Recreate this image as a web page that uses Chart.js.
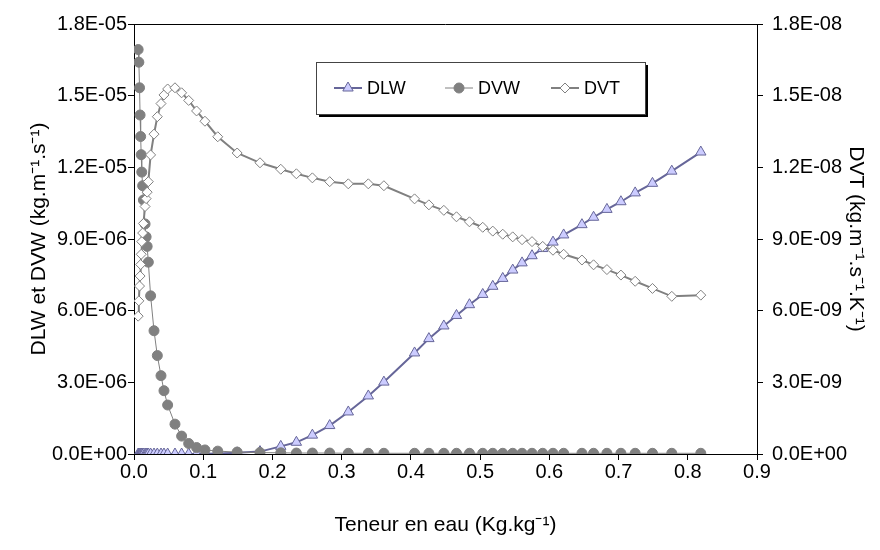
<!DOCTYPE html>
<html>
<head>
<meta charset="utf-8">
<script src="https://cdn.jsdelivr.net/npm/chart.js@4.4.1/dist/chart.umd.min.js"></script>
<style>
  html, body { margin: 0; padding: 0; background: #fff; }
  #wrap { width: 880px; height: 550px; }
</style>
</head>
<body>
<div id="wrap"><canvas id="chart" width="880" height="550"></canvas></div>
<script>
// water content (Kg.kg-1), shared by the three series
const teneur = [
  0.0060, 0.0070, 0.0080, 0.0088, 0.0096, 0.0104, 0.0112, 0.0125, 0.0136, 0.0160, 0.0175, 0.0190, 0.0207,
  0.0240, 0.0289, 0.0337, 0.0390, 0.0433, 0.0486, 0.0592, 0.0688, 0.0790, 0.0904, 0.1025, 0.1210, 0.1490,
  0.1820, 0.2120, 0.2346, 0.2577, 0.2827, 0.3096, 0.3385, 0.3610, 0.4053, 0.4260, 0.4476, 0.4659, 0.4846,
  0.5038, 0.5183, 0.5327, 0.5471, 0.5606, 0.5750, 0.5904, 0.6053, 0.6207, 0.6471, 0.6639, 0.6832, 0.7034,
  0.7240, 0.7490, 0.7769, 0.8188
];
// DLW and DVW in 1E-06 kg.m-1.s-1
const dlw = [
  0, 0, 0, 0, 0, 0, 0, 0, 0, 0, 0, 0, 0,
  0, 0, 0, 0, 0, 0, 0, 0, 0, 0, 0.01, 0.02, 0.05,
  0.10, 0.32, 0.49, 0.79, 1.19, 1.76, 2.43, 3.01, 4.23, 4.83, 5.36, 5.80, 6.25,
  6.68, 7.02, 7.35, 7.70, 8.00, 8.30, 8.60, 8.87, 9.17, 9.60, 9.91, 10.24, 10.56,
  10.93, 11.33, 11.84, 12.64
];
const dvw = [
  16.93, 16.40, 15.33, 14.19, 13.29, 12.53, 11.80, 11.23, 10.63, 9.63, 9.09, 8.69, 8.03,
  6.62, 5.16, 4.12, 3.28, 2.65, 2.05, 1.25, 0.75, 0.44, 0.27, 0.17, 0.12, 0.08,
  0.06, 0.05, 0.04, 0.04, 0.04, 0.03, 0.03, 0.03, 0.03, 0.03, 0.03, 0.03, 0.03,
  0.03, 0.03, 0.03, 0.03, 0.03, 0.03, 0.03, 0.03, 0.03, 0.03, 0.03, 0.03, 0.03,
  0.03, 0.03, 0.03, 0.03
];
// DVT in 1E-09 kg.m-1.s-1.K-1
const dvt = [
  5.77, 6.41, 7.03, 7.45, 7.93, 8.36, 8.89, 9.25, 9.65, 10.36, 10.69, 10.96, 11.40,
  12.52, 13.39, 14.12, 14.67, 15.03, 15.28, 15.33, 15.12, 14.80, 14.36, 13.93, 13.28, 12.60,
  12.19, 11.92, 11.73, 11.56, 11.40, 11.31, 11.31, 11.23, 10.68, 10.43, 10.20, 9.93, 9.72,
  9.49, 9.33, 9.20, 9.09, 8.97, 8.89, 8.69, 8.53, 8.36, 8.12, 7.92, 7.72, 7.49,
  7.23, 6.93, 6.60, 6.65
];
const xTicks = [0, 0.1, 0.2, 0.3, 0.4, 0.5, 0.6, 0.7, 0.8, 0.9];
const leftTicks = [0, 3e-6, 6e-6, 9e-6, 1.2e-5, 1.5e-5, 1.8e-5];
const rightTicks = [0, 3e-9, 6e-9, 9e-9, 1.2e-8, 1.5e-8, 1.8e-8];

const pts = (ys, k) => teneur.map((x, i) => ({ x: x, y: ys[i] * k }));

// "1.8E-05" style labels
function sci(v) {
  const [m, e] = Number(v).toExponential(1).split('e');
  const n = parseInt(e, 10);
  return m + 'E' + (n < 0 ? '-' : '+') + String(Math.abs(n)).padStart(2, '0');
}

const FONT = 'Liberation Sans, Arial, sans-serif';
const axisGrid = { drawOnChartArea: false, color: '#000', tickColor: '#000', tickLength: 6 };
const tickFont = { family: FONT, size: 20 };
const titleFont = { family: FONT, size: 21 };

// frame round the plot + boxed legend with shadow
const framePlugin = {
  id: 'frame',
  afterDatasetsDraw(chart) {
    const { ctx, chartArea: a } = chart;
    ctx.save();
    ctx.strokeStyle = '#000';
    ctx.lineWidth = 1;
    ctx.beginPath();
    ctx.moveTo(a.left, a.top + 0.5);
    ctx.lineTo(a.right, a.top + 0.5);
    ctx.stroke();

    const bx = 316, by = 62, bw = 329, bh = 52;
    ctx.fillStyle = '#000';
    ctx.fillRect(bx + 3, by + 3, bw, bh);
    ctx.fillStyle = '#fff';
    ctx.fillRect(bx, by, bw, bh);
    ctx.strokeStyle = '#444';
    ctx.strokeRect(bx + 0.5, by + 0.5, bw, bh);

    const ly = by + bh / 2;
    const starts = [334, 445, 551];
    chart.data.datasets.forEach((ds, i) => {
      const x0 = starts[i];
      ctx.strokeStyle = ds.borderColor;
      ctx.lineWidth = ds.borderWidth;
      ctx.beginPath();
      ctx.moveTo(x0, ly);
      ctx.lineTo(x0 + 28, ly);
      ctx.stroke();
      ctx.fillStyle = ds.pointBackgroundColor;
      ctx.strokeStyle = ds.pointBorderColor;
      ctx.lineWidth = 1;
      Chart.helpers.drawPoint(ctx, { pointStyle: ds.pointStyle, radius: ds.pointRadius, borderWidth: 1, rotation: 0 }, x0 + 14, ly);
      ctx.fillStyle = '#000';
      ctx.font = '18px ' + FONT;
      ctx.textBaseline = 'middle';
      ctx.fillText(ds.label, x0 + 33, ly + 1);
    });
    ctx.restore();
  }
};

new Chart(document.getElementById('chart'), {
  type: 'scatter',
  data: {
    datasets: [
      {
        label: 'DLW', data: pts(dlw, 1e-6), yAxisID: 'y', showLine: true, order: 2,
        borderColor: '#666699', borderWidth: 2,
        pointStyle: 'triangle', pointRadius: 6, pointBackgroundColor: '#CCCCFF', pointBorderColor: '#666699', pointBorderWidth: 1
      },
      {
        label: 'DVW', data: pts(dvw, 1e-6), yAxisID: 'y', showLine: true, order: 1,
        borderColor: '#808080', borderWidth: 1,
        pointStyle: 'circle', pointRadius: 5, pointBackgroundColor: '#808080', pointBorderColor: '#808080', pointBorderWidth: 1
      },
      {
        label: 'DVT', data: pts(dvt, 1e-9), yAxisID: 'y2', showLine: true, order: 0,
        borderColor: '#808080', borderWidth: 2,
        pointStyle: 'rectRot', pointRadius: 5, pointBackgroundColor: '#ffffff', pointBorderColor: '#808080', pointBorderWidth: 1
      }
    ]
  },
  options: {
    responsive: false,
    animation: false,
    layout: { padding: { top: 24, left: 0, right: 0, bottom: 0 } },
    plugins: { legend: { display: false }, tooltip: { enabled: false } },
    scales: {
      x: {
        type: 'linear', min: 0, max: 0.9,
        afterBuildTicks: s => { s.ticks = xTicks.map(v => ({ value: v })); },
        afterFit: s => { s.height = 96; },
        ticks: { color: '#000', font: tickFont, padding: 0, callback: v => v.toFixed(1) },
        grid: axisGrid,
        border: { color: '#000', width: 1 },
        title: { display: true, text: 'Teneur en eau (Kg.kg⁻¹)', color: '#000', font: titleFont, padding: { top: 0, bottom: 12 } }
      },
      y: {
        type: 'linear', position: 'left', min: 0, max: 1.8e-5,
        afterBuildTicks: s => { s.ticks = leftTicks.map(v => ({ value: v })); },
        afterFit: s => { s.width = 134; },
        ticks: { color: '#000', font: tickFont, padding: 1, callback: v => sci(v) },
        grid: axisGrid,
        border: { color: '#000', width: 1 },
        title: { display: true, text: 'DLW et DVW (kg.m⁻¹.s⁻¹)', color: '#000', font: titleFont, padding: { top: 27, bottom: 0 } }
      },
      y2: {
        type: 'linear', position: 'right', min: 0, max: 1.8e-8,
        afterBuildTicks: s => { s.ticks = rightTicks.map(v => ({ value: v })); },
        afterFit: s => { s.width = 123; },
        ticks: { color: '#000', font: tickFont, padding: 9, callback: v => sci(v) },
        grid: axisGrid,
        border: { color: '#000', width: 1 },
        title: { display: true, text: 'DVT (kg.m⁻¹.s⁻¹.K⁻¹)', color: '#000', font: titleFont, padding: { top: 12, bottom: 0 } }
      }
    }
  },
  plugins: [framePlugin]
});
</script>
</body>
</html>
